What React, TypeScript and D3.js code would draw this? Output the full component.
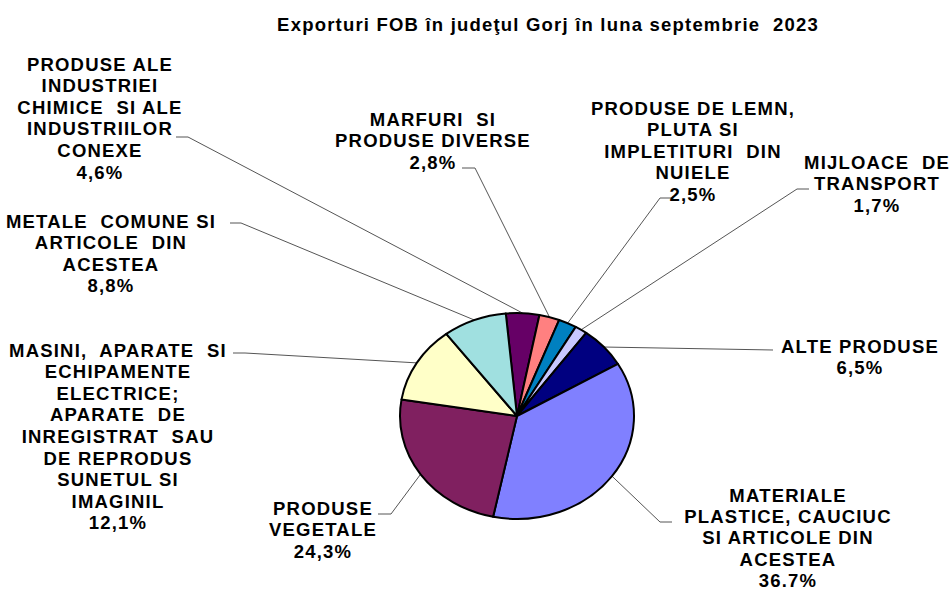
import React from "react";
import * as d3 from "d3";

const categories = [
  ["PRODUSE ALE", "INDUSTRIEI", "CHIMICE  SI ALE", "INDUSTRIILOR", "CONEXE"],
  ["MARFURI  SI", "PRODUSE DIVERSE"],
  ["PRODUSE DE LEMN,", "PLUTA SI", "IMPLETITURI  DIN", "NUIELE"],
  ["MIJLOACE  DE", "TRANSPORT"],
  ["ALTE PRODUSE"],
  ["MATERIALE", "PLASTICE, CAUCIUC", "SI ARTICOLE DIN", "ACESTEA"],
  ["PRODUSE", "VEGETALE"],
  ["MASINI,  APARATE  SI", "ECHIPAMENTE", "ELECTRICE;", "APARATE  DE", "INREGISTRAT  SAU", "DE REPRODUS", "SUNETUL SI", "IMAGINIL"],
  ["METALE  COMUNE SI", "ARTICOLE  DIN", "ACESTEA"],
];
const values = [4.6, 2.8, 2.5, 1.7, 6.5, 36.7, 24.3, 12.1, 8.8];
const valueLabels = ["4,6%", "2,8%", "2,5%", "1,7%", "6,5%", "36.7%", "24,3%", "12,1%", "8,8%"];
const colors = ["#660066", "#FF8080", "#0080C0", "#C8C8FF", "#000080", "#8080FF", "#802060", "#FFFFC8", "#A0E0E0"];
const title = "Exporturi FOB în judeţul Gorj în luna septembrie  2023";

// layout: text center x, first baseline y, line height, leader elbow points (label side first)
const layout = [
  { x: 100, y: 70.5, lh: 21.6, leader: [[176, 137], [188, 137]] },
  { x: 433, y: 125.5, lh: 21.6, leader: [[462, 168], [475, 168]] },
  { x: 693, y: 114.5, lh: 21.6, leader: [[672, 198], [660, 198]] },
  { x: 877, y: 168.5, lh: 21.6, leader: [[809, 189], [797, 189]] },
  { x: 860, y: 352.5, lh: 21.6, leader: [[773, 350]] },
  { x: 788, y: 501.5, lh: 21.4, leader: [[672, 522], [660, 522]] },
  { x: 323, y: 514.5, lh: 21.6, leader: [[378, 514], [391, 514]] },
  { x: 118, y: 356.5, lh: 21.6, leader: [[233, 353], [245, 353]] },
  { x: 111, y: 227.5, lh: 21.6, leader: [[230, 223], [241, 223]] },
];

const W = 952, H = 590;
const cx = 517, cy = 416, rx = 117, ry = 103;
const font = "'Liberation Sans', Arial, sans-serif";

export default function App() {
  const start = (-5.5 * Math.PI) / 180;
  const pie = d3.pie<number>().sort(null).startAngle(start).endAngle(start + 2 * Math.PI);
  const arcs = pie(values);
  const arc = d3.arc<d3.PieArcDatum<number>>().innerRadius(0).outerRadius(rx);
  const edge = (a: number) => [cx + rx * Math.sin(a), cy - ry * Math.cos(a)];
  const line = d3.line();

  return (
    <svg width={W} height={H} style={{ position: "absolute", left: 0, top: 0, background: "#fff" }}>
      <rect width={W} height={H} fill="#fff" />
      <text x={548} y={31} textAnchor="middle" fontFamily={font} fontWeight="bold" fontSize={18.5} letterSpacing={1.2} fill="#000" style={{ whiteSpace: "pre" }}>
        {title}
      </text>
      {arcs.map((d, i) => {
        const mid = (d.startAngle + d.endAngle) / 2;
        const all = [...layout[i].leader, edge(mid)] as [number, number][];
        return <path key={"l" + i} d={line(all) || ""} fill="none" stroke="#555" strokeWidth={1} />;
      })}
      <g transform={`translate(${cx},${cy}) scale(1,${ry / rx})`}>
        {arcs.map((d, i) => (
          <path key={i} d={arc(d) || ""} fill={colors[i]} stroke="#000" strokeWidth={2} vectorEffect="non-scaling-stroke" strokeLinejoin="round" />
        ))}
      </g>
      {categories.map((lines, i) => (
        <text key={"t" + i} textAnchor="middle" fontFamily={font} fontWeight="bold" fontSize={18.5} letterSpacing={1.2} fill="#000">
          {[...lines, valueLabels[i]].map((s, j) => (
            <tspan key={j} x={layout[i].x} y={layout[i].y + j * layout[i].lh} style={{ whiteSpace: "pre" }}>
              {s}
            </tspan>
          ))}
        </text>
      ))}
    </svg>
  );
}
